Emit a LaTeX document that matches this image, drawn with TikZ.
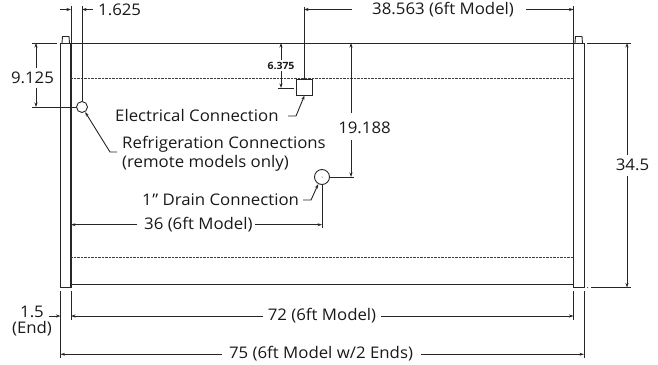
\documentclass[tikz,border=0pt]{standalone}
\usepackage{fontspec}
\setmainfont[FakeStretch=1.05]{Open Sans}
\usetikzlibrary{arrows.meta}
\tikzset{
  ln/.style={draw=black!85,line width=0.9pt},
  thick ln/.style={draw=black!85,line width=1.2pt},
  dim/.style={draw=black!85,line width=0.9pt,-{Stealth[length=4.5pt,width=3pt]}},
  lab/.style={inner sep=0pt,font=\fontsize{16}{18}\selectfont,text=black!90},
  dotln/.style={draw=black!75,line width=0.8pt,dash pattern=on 0.9pt off 0.5pt},
}
\begin{document}
\begin{tikzpicture}[x=1pt,y=-1pt]
\useasboundingbox (0,0) rectangle (658,364);
% cabinet
\draw[ln] (60.5,287.5) -- (60.5,43) -- (584,43) -- (584,287.5) -- (573.5,287.5) -- (573.5,43);
\draw[ln] (60.5,287.5) -- (71,287.5);
\draw[thick ln] (71,43) -- (71,287.5);
\draw[ln] (71,284.3) -- (573.5,284.3);
\draw[ln] (62,43) -- (62.5,36.5) -- (69,36.5) -- (69.5,43);
\draw[ln] (575,43) -- (575.5,36.5) -- (582,36.5) -- (582.5,43);
\draw[dotln] (71,78) -- (573.5,78);
\draw[dotln] (71,257.7) -- (573.5,257.7);
% connections
\node[draw=black!85,line width=0.9pt,circle,minimum size=11pt,inner sep=0pt] (refr) at (82,107) {};
\node[draw=black!85,line width=0.9pt,circle,minimum size=15pt,inner sep=0pt] (drain) at (322,177) {};
\node[draw=black!85,line width=0.9pt,rectangle,minimum size=15.5pt,inner sep=0pt] (elec) at (304.5,87.3) {};
\fill[black!85] (drain.center) circle (0.5pt);
% 1.625
\coordinate (a1) at (71,6);
\coordinate (a2) at (82,6);
\draw[ln] (a1) -- (71,43);
\draw[ln] (a2) -- (refr.north);
\draw[dim] (60,9.5) -- (71,9.5);
\draw[dim] (93,9.5) -- (82,9.5);
\node[lab,anchor=west] (t1625) at (98,10) {1.625};
% 9.125
\draw[ln] (32,43) -- (57,43);
\draw[ln] (32,107) -- (refr.west);
\node[lab] (t9125) at (32.5,78) {9.125};
\draw[dim] (36,68) -- (36,43);
\draw[dim] (36,88) -- (36,107);
% refrigeration
\node[lab,anchor=west] (trefr) at (122,144.5) {Refrigeration Connections};
\node[lab,anchor=west] (trem) at (122,163) {(remote models only)};
\draw[dim] (117,152) -- (110,152) -- (refr.-58);
% electrical
\node[lab,anchor=west] (telec) at (115,115) {Electrical Connection};
\draw[dim] (288,116) -- (296,116) -- (elec.south);
% 38.563
\draw[ln] (304,7) -- (elec.north -| 304,0);
\draw[dim] (352,9.5) -- (304,9.5);
\node[lab,anchor=west] (t38) at (372,10) {38.563 (6ft Model)};
\draw[dim] (526,9.5) -- (573.5,9.5);
\draw[ln] (573.5,6) -- (573.5,43);
% 6.375
\node[inner sep=0pt,font=\fontsize{10}{11}\bfseries\selectfont,text=black!90] (t6) at (281,65.5) {6.375};
\draw[dim] (281,60) -- (281,43);
\draw[dim] (281,71) -- (281,88);
\draw[ln] (278,88) -- (294,88);
% 19.188
\node[lab] (t19) at (364.5,128) {19.188};
\draw[dim] (351,113) -- (351,43);
\draw[dim] (351,140) -- (351,177);
\draw[ln] (drain.east) -- (354,177);
% drain
\node[lab,anchor=west] (tdrain) at (142,200) {1\kern0.5pt\textquotedblright{} Drain Connection};
\draw[dim] (303,200) -- (311,200) -- (drain.-118);
% 36
\draw[ln] (drain.south) -- (322,228);
\node[lab,anchor=west] (t36) at (144,225) {36 (6ft Model)};
\draw[dim] (137,224.7) -- (71,224.7);
\draw[dim] (255,224.7) -- (322,224.7);
% 34.5
\draw[ln] (587,43) -- (631,43);
\draw[ln] (591,287.5) -- (631,287.5);
\fill[black!85] (587.5,287.5) circle (0.5pt);
\node[lab] (t345) at (632.5,165) {34.5};
\draw[dim] (627,155) -- (627,43);
\draw[dim] (627,176) -- (627,287.5);
% bottom
\draw[ln] (60.5,291) -- (60.5,358);
\draw[ln] (71,291) -- (71,320);
\draw[ln] (573.5,291) -- (573.5,320);
\draw[ln] (584,291) -- (584,358);
\node[lab] (t72) at (322,316) {72 (6ft Model)};
\draw[dim] (262.7,316) -- (71,316);
\draw[dim] (381,316) -- (573.5,316);
\node[lab] (t75) at (321,353.5) {75 (6ft Model w/2 Ends)};
\draw[dim] (222,354.3) -- (60.5,354.3);
\draw[dim] (421,354.3) -- (584,354.3);
\node[lab] (t15) at (32,312) {1.5};
\node[lab] (tend) at (32,329) {(End)};
\draw[dim] (49,316) -- (60.5,316);
\end{tikzpicture}
\end{document}
